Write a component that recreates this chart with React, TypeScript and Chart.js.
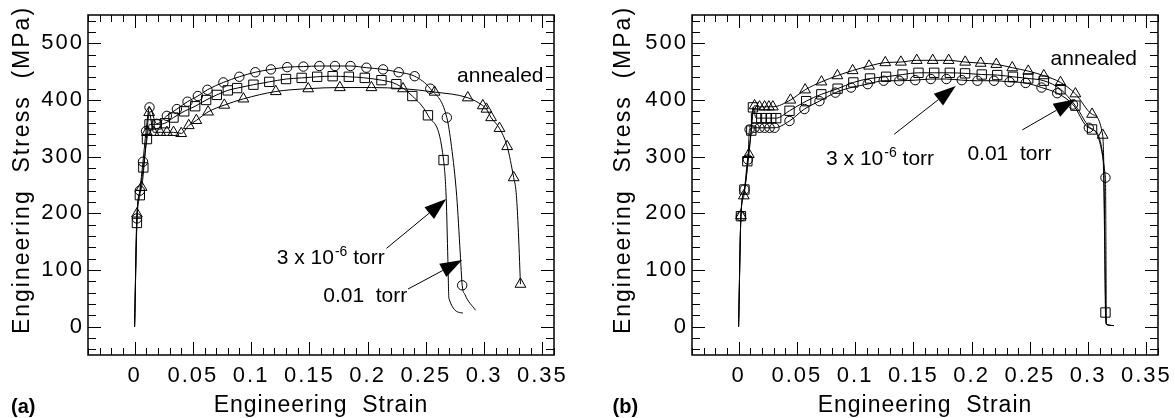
import React, { useEffect, useRef } from "react";
import { Chart, registerables } from "chart.js";

Chart.register(...registerables);

// ---------------- Axes ----------------
const X_MIN = -0.04;
const X_MAX = 0.36;
const Y_MIN = -50;
const Y_MAX = 550;
const X_TICKS = [0, 0.05, 0.1, 0.15, 0.2, 0.25, 0.3, 0.35];
const X_TICK_LABELS = ["0", "0.05", "0.1", "0.15", "0.2", "0.25", "0.3", "0.35"];
const Y_TICKS = [0, 100, 200, 300, 400, 500];
const Y_TICK_LABELS = ["0", "100", "200", "300", "400", "500"];
const X_MINOR_STEP = 0.01;
const X_MAJOR_EVERY = 5;
const Y_MINOR_STEP = 20;
const Y_MAJOR_EVERY = 5;
const X_TITLE = "Engineering  Strain";
const Y_TITLE = "Engineering  Stress  (MPa)";

// ---------------- Panel (a) ----------------
// 0.01 torr (circles)
const A_CIRC_STRAIN = [0.002, 0.0045, 0.0072, 0.0098, 0.0128, 0.019, 0.0277, 0.0363, 0.0454, 0.0543, 0.0625, 0.0762, 0.0899, 0.1036, 0.117, 0.131, 0.1449, 0.1586, 0.172, 0.1853, 0.199, 0.2133, 0.2267, 0.2404, 0.2538, 0.268, 0.2812];
const A_CIRC_STRESS = [191, 240, 291, 345, 387, 358, 372, 384, 397, 407, 418, 431, 441, 449, 454, 458, 459, 460, 460, 460, 457, 454, 449, 442, 420, 369, 73];
const A_CIRC_LINE_STRAIN = [0, 0.272, 0.2765, 0.2795, 0.2835, 0.2926];
const A_CIRC_LINE_STRESS = [0, 318, 230, 130, 57, 29];
// 3 x 10^-6 torr (squares)
const A_SQ_STRAIN = [0.002, 0.0045, 0.0075, 0.0106, 0.0128, 0.019, 0.026, 0.0334, 0.0426, 0.052, 0.0614, 0.0706, 0.08, 0.088, 0.102, 0.1156, 0.13, 0.1434, 0.1567, 0.17, 0.1839, 0.1976, 0.2119, 0.2247, 0.2384, 0.2518, 0.2652];
const A_SQ_STRESS = [183, 232, 281, 331, 357, 357, 359, 369, 380, 389, 400, 409, 417, 421, 427, 432, 437, 439, 441, 442, 441, 439, 435, 428, 407, 373, 294];
const A_SQ_LINE_STRAIN = [0, 0.2675, 0.2689, 0.2698, 0.2818];
const A_SQ_LINE_STRESS = [0, 225, 119, 50, 24];
// annealed (triangles)
const A_TRI_STRAIN = [0.002, 0.006, 0.0106, 0.0125, 0.0163, 0.022, 0.0277, 0.0334, 0.04, 0.0465, 0.053, 0.0631, 0.077, 0.0934, 0.1212, 0.149, 0.1762, 0.2033, 0.2304, 0.2575, 0.286, 0.2989, 0.302, 0.306, 0.3132, 0.3198, 0.3254, 0.3312];
const A_TRI_STRESS = [199, 246, 343, 378, 343, 343, 343, 343, 341, 355, 364, 379, 391, 402, 415, 420, 422, 422, 420, 414, 404, 390, 384, 369, 350, 318, 263, 75];
const A_TRI_LINE_STRAIN = [0, 0.3275, 0.3292];
const A_TRI_LINE_STRESS = [0, 237, 178];

// ---------------- Panel (b) ----------------
const B_CIRC_STRAIN = [0.002, 0.005, 0.008, 0.0094, 0.0137, 0.018, 0.0223, 0.0266, 0.0308, 0.0437, 0.0565, 0.0694, 0.0831, 0.0965, 0.1108, 0.1245, 0.1379, 0.1516, 0.165, 0.1784, 0.1916, 0.205, 0.2192, 0.2326, 0.2464, 0.26, 0.2735, 0.287, 0.3006, 0.3149];
const B_CIRC_STRESS = [195, 242, 295, 348, 351, 351, 351, 351, 351, 363, 384, 398, 413, 422, 428, 434, 434, 435, 437, 437, 435, 434, 434, 432, 430, 422, 412, 392, 351, 263];
const B_CIRC_LINE_STRAIN = [0, 0.3153, 0.3156, 0.316, 0.322];
const B_CIRC_LINE_STRESS = [0, 150, 20, 4, 2];
const B_SQ_STRAIN = [0.002, 0.005, 0.0075, 0.0109, 0.0123, 0.015, 0.0195, 0.0238, 0.028, 0.0323, 0.0437, 0.058, 0.071, 0.085, 0.0985, 0.1128, 0.1266, 0.1407, 0.1544, 0.1679, 0.1813, 0.1944, 0.2087, 0.222, 0.2355, 0.2486, 0.262, 0.2763, 0.2891, 0.3034, 0.3149];
const B_SQ_STRESS = [195, 242, 292, 346, 387, 368, 368, 368, 368, 368, 381, 398, 410, 420, 431, 438, 441, 445, 448, 448, 448, 447, 445, 444, 441, 438, 434, 419, 390, 348, 25];
const B_SQ_LINE_STRAIN = [0, 0.3128, 0.3142, 0.3158, 0.322];
const B_SQ_LINE_STRESS = [0, 300, 150, 4, 2];
const B_TRI_STRAIN = [0.002, 0.0045, 0.0088, 0.0137, 0.018, 0.0223, 0.026, 0.0294, 0.0445, 0.0571, 0.0711, 0.0848, 0.0979, 0.112, 0.1259, 0.1393, 0.1529, 0.1666, 0.1803, 0.1945, 0.2078, 0.2212, 0.2349, 0.2486, 0.262, 0.2763, 0.2891, 0.3034, 0.3125];
const B_TRI_STRESS = [196, 231, 304, 390, 388, 388, 388, 388, 400, 418, 432, 443, 452, 460, 466, 467, 470, 470, 470, 467, 465, 463, 457, 451, 443, 431, 411, 375, 338];
const B_TRI_LINE_STRAIN = [0, 0.3138, 0.3146, 0.3152, 0.3158, 0.322];
const B_TRI_LINE_STRESS = [0, 250, 100, 20, 4, 2];

// ---------------- Annotation anchors (data units) ----------------
const A_LABEL_ANNEALED = [0.3139, 431.8];
const A_LABEL_VAC = [0.122, 110.5];
const A_LABEL_AIR = [0.1619, 43];
const A_ARROWS = [
  [0.2162, 138.2, 0.2675, 225.1],
  [0.2347, 66.4, 0.2812, 117.5],
];
const B_LABEL_ANNEALED = [0.3049, 461.2];
const B_LABEL_VAC = [0.0751, 285];
const B_LABEL_AIR = [0.1964, 294.3];
const B_ARROWS = [
  [0.1336, 339.6, 0.1864, 424.7],
  [0.2435, 347.2, 0.2892, 401.3],
];

const FONT = '"Liberation Sans", Arial, Helvetica, sans-serif';

function curve(mx: number[], my: number[], ex: number[], ey: number[]) {
  const pts = [
    ...mx.map((x, i) => ({ x, y: my[i] })),
    ...ex.map((x, i) => ({ x, y: ey[i] })),
  ];
  pts.sort((p, q) => p.x - q.x);
  return pts;
}
function markers(mx: number[], my: number[]) {
  return mx.map((x, i) => ({ x, y: my[i] }));
}

type SeriesDef = {
  mx: number[]; my: number[]; ex: number[]; ey: number[];
  style: "circle" | "rect" | "triangle";
};

const MARKER_RADIUS: Record<string, number> = { circle: 4.7, rect: 6.6, triangle: 6.2 };

const PANELS = [
  {
    key: "a",
    left: 0,
    width: 604,
    padRight: 50,
    yTitleX: 29,
    tag: "(a)",
    tagX: 11,
    series: [
      { mx: A_CIRC_STRAIN, my: A_CIRC_STRESS, ex: A_CIRC_LINE_STRAIN, ey: A_CIRC_LINE_STRESS, style: "circle" },
      { mx: A_SQ_STRAIN, my: A_SQ_STRESS, ex: A_SQ_LINE_STRAIN, ey: A_SQ_LINE_STRESS, style: "rect" },
      { mx: A_TRI_STRAIN, my: A_TRI_STRESS, ex: A_TRI_LINE_STRAIN, ey: A_TRI_LINE_STRESS, style: "triangle" },
    ] as SeriesDef[],
    annealed: A_LABEL_ANNEALED,
    vac: A_LABEL_VAC,
    air: A_LABEL_AIR,
    arrows: A_ARROWS,
  },
  {
    key: "b",
    left: 604,
    width: 571,
    padRight: 17,
    yTitleX: 26,
    tag: "(b)",
    tagX: 8.5,
    series: [
      { mx: B_CIRC_STRAIN, my: B_CIRC_STRESS, ex: B_CIRC_LINE_STRAIN, ey: B_CIRC_LINE_STRESS, style: "circle" },
      { mx: B_SQ_STRAIN, my: B_SQ_STRESS, ex: B_SQ_LINE_STRAIN, ey: B_SQ_LINE_STRESS, style: "rect" },
      { mx: B_TRI_STRAIN, my: B_TRI_STRESS, ex: B_TRI_LINE_STRAIN, ey: B_TRI_LINE_STRESS, style: "triangle" },
    ] as SeriesDef[],
    annealed: B_LABEL_ANNEALED,
    vac: B_LABEL_VAC,
    air: B_LABEL_AIR,
    arrows: B_ARROWS,
  },
];

type Panel = (typeof PANELS)[number];

function drawArrow(ctx: CanvasRenderingContext2D, x1: number, y1: number, x2: number, y2: number) {
  const headLen = 22;
  const headHalf = 7.5;
  const ang = Math.atan2(y2 - y1, x2 - x1);
  const bx = x2 - headLen * Math.cos(ang);
  const by = y2 - headLen * Math.sin(ang);
  ctx.beginPath();
  ctx.moveTo(x1, y1);
  ctx.lineTo(bx, by);
  ctx.stroke();
  ctx.beginPath();
  ctx.moveTo(x2, y2);
  ctx.lineTo(bx + headHalf * Math.sin(ang), by - headHalf * Math.cos(ang));
  ctx.lineTo(bx - headHalf * Math.sin(ang), by + headHalf * Math.cos(ang));
  ctx.closePath();
  ctx.fill();
}

function makeDecorPlugin(panel: Panel) {
  return {
    id: "decor_" + panel.key,
    beforeDraw(chart: any) {
      chart.ctx.letterSpacing = "2px";
    },
    afterDraw(chart: any) {
      const ctx: CanvasRenderingContext2D = chart.ctx;
      const xs = chart.scales.x;
      const ys = chart.scales.y;
      const a = chart.chartArea;
      ctx.save();
      (ctx as any).letterSpacing = "0px";
      ctx.strokeStyle = "#000";
      ctx.fillStyle = "#000";

      // inward tick marks on all four sides
      ctx.lineWidth = 1;
      ctx.beginPath();
      const kx0 = Math.round(X_MIN / X_MINOR_STEP);
      const kx1 = Math.round(X_MAX / X_MINOR_STEP);
      for (let k = kx0; k <= kx1; k++) {
        const px = Math.round(xs.getPixelForValue(k * X_MINOR_STEP)) + 0.5;
        const len = k % X_MAJOR_EVERY === 0 ? 13 : 7;
        ctx.moveTo(px, a.bottom);
        ctx.lineTo(px, a.bottom - len);
        ctx.moveTo(px, a.top);
        ctx.lineTo(px, a.top + len);
      }
      const ky0 = Math.ceil(Y_MIN / Y_MINOR_STEP);
      const ky1 = Math.floor(Y_MAX / Y_MINOR_STEP);
      for (let k = ky0; k <= ky1; k++) {
        const py = Math.round(ys.getPixelForValue(k * Y_MINOR_STEP)) + 0.5;
        const len = k % Y_MAJOR_EVERY === 0 ? 13 : 8;
        ctx.moveTo(a.left, py);
        ctx.lineTo(a.left + len, py);
        ctx.moveTo(a.right, py);
        ctx.lineTo(a.right - len, py);
      }
      ctx.stroke();

      // frame
      ctx.lineWidth = 1.5;
      ctx.strokeRect(a.left, a.top, a.right - a.left, a.bottom - a.top);

      // axis titles
      ctx.font = `23px ${FONT}`;
      (ctx as any).letterSpacing = "1px";
      ctx.textAlign = "center";
      ctx.textBaseline = "alphabetic";
      ctx.fillText(X_TITLE, (a.left + a.right) / 2, 411.5);
      ctx.save();
      ctx.translate(panel.yTitleX, 170);
      ctx.rotate(-Math.PI / 2);
      (ctx as any).letterSpacing = "2px";
      ctx.fillText(Y_TITLE, 0, 0);
      ctx.restore();

      // panel tag
      (ctx as any).letterSpacing = "0px";
      ctx.font = `bold 20px ${FONT}`;
      ctx.textAlign = "left";
      ctx.fillText(panel.tag, panel.tagX, 413);

      // annotations
      ctx.font = `21px ${FONT}`;
      ctx.textAlign = "center";
      ctx.fillText(
        "annealed",
        xs.getPixelForValue(panel.annealed[0]),
        ys.getPixelForValue(panel.annealed[1])
      );
      // 3 x 10^-6 torr
      ctx.textAlign = "left";
      let tx = xs.getPixelForValue(panel.vac[0]);
      const ty = ys.getPixelForValue(panel.vac[1]);
      const p1 = "3 x 10";
      ctx.fillText(p1, tx, ty);
      tx += ctx.measureText(p1).width + 1;
      ctx.font = `14px ${FONT}`;
      ctx.fillText("-6", tx, ty - 8);
      tx += ctx.measureText("-6").width;
      ctx.font = `21px ${FONT}`;
      ctx.fillText(" torr", tx, ty);
      // 0.01 torr
      ctx.fillText(
        "0.01  torr",
        xs.getPixelForValue(panel.air[0]),
        ys.getPixelForValue(panel.air[1])
      );

      ctx.lineWidth = 1;
      for (const ar of panel.arrows) {
        drawArrow(
          ctx,
          xs.getPixelForValue(ar[0]),
          ys.getPixelForValue(ar[1]),
          xs.getPixelForValue(ar[2]),
          ys.getPixelForValue(ar[3])
        );
      }
      ctx.restore();
    },
  };
}

function buildDatasets(panel: Panel) {
  const ds: any[] = [];
  for (const s of panel.series) {
    ds.push({
      data: curve(s.mx, s.my, s.ex, s.ey),
      showLine: true,
      borderColor: "#000",
      borderWidth: 1,
      pointRadius: 0,
      cubicInterpolationMode: "monotone",
      fill: false,
    });
  }
  for (const s of panel.series) {
    ds.push({
      data: markers(s.mx, s.my),
      showLine: false,
      pointStyle: s.style,
      pointRadius: MARKER_RADIUS[s.style],
      pointBorderWidth: 1,
      pointBorderColor: "#000",
      pointBackgroundColor: "rgba(0,0,0,0)",
      borderColor: "#000",
    });
  }
  return ds;
}

function PanelChart({ panel }: { panel: Panel }) {
  const ref = useRef<HTMLCanvasElement>(null);
  useEffect(() => {
    if (!ref.current) return;
    const chart = new Chart(ref.current, {
      type: "line",
      data: { datasets: buildDatasets(panel) },
      options: {
        responsive: false,
        animation: false,
        events: [],
        devicePixelRatio: 1,
        layout: {
          padding: { left: 0, right: panel.padRight, top: 15, bottom: 0 },
          autoPadding: false,
        },
        plugins: {
          legend: { display: false },
          tooltip: { enabled: false },
        },
        scales: {
          x: {
            type: "linear",
            min: X_MIN,
            max: X_MAX,
            afterBuildTicks: (s: any) => {
              s.ticks = X_TICKS.map((v) => ({ value: v }));
            },
            afterFit: (s: any) => {
              s.height = 63;
              s.paddingLeft = 0;
              s.paddingRight = 0;
            },
            ticks: {
              autoSkip: false,
              maxRotation: 0,
              minRotation: 0,
              padding: 8,
              color: "#000",
              font: { family: FONT, size: 22 },
              callback: (_v: any, i: number) => X_TICK_LABELS[i],
            },
            grid: { display: false, drawTicks: false },
            border: { display: false },
          },
          y: {
            type: "linear",
            min: Y_MIN,
            max: Y_MAX,
            afterBuildTicks: (s: any) => {
              s.ticks = Y_TICKS.map((v) => ({ value: v }));
            },
            afterFit: (s: any) => {
              s.width = 88;
              s.paddingTop = 0;
              s.paddingBottom = 0;
            },
            ticks: {
              autoSkip: false,
              padding: 4,
              color: "#000",
              font: { family: FONT, size: 22 },
              callback: (_v: any, i: number) => Y_TICK_LABELS[i],
            },
            grid: { display: false, drawTicks: false },
            border: { display: false },
          },
        },
      } as any,
      plugins: [makeDecorPlugin(panel)],
    });
    return () => chart.destroy();
  }, [panel]);
  return (
    <canvas
      ref={ref}
      width={panel.width}
      height={418}
      style={{ position: "absolute", left: panel.left, top: 0, width: panel.width, height: 418, display: "block" }}
    />
  );
}

export default function App() {
  return (
    <div
      style={{
        position: "fixed",
        left: 0,
        top: 0,
        width: 1175,
        height: 418,
        background: "#fff",
        overflow: "hidden",
      }}
    >
      {PANELS.map((p) => (
        <PanelChart key={p.key} panel={p} />
      ))}
    </div>
  );
}
